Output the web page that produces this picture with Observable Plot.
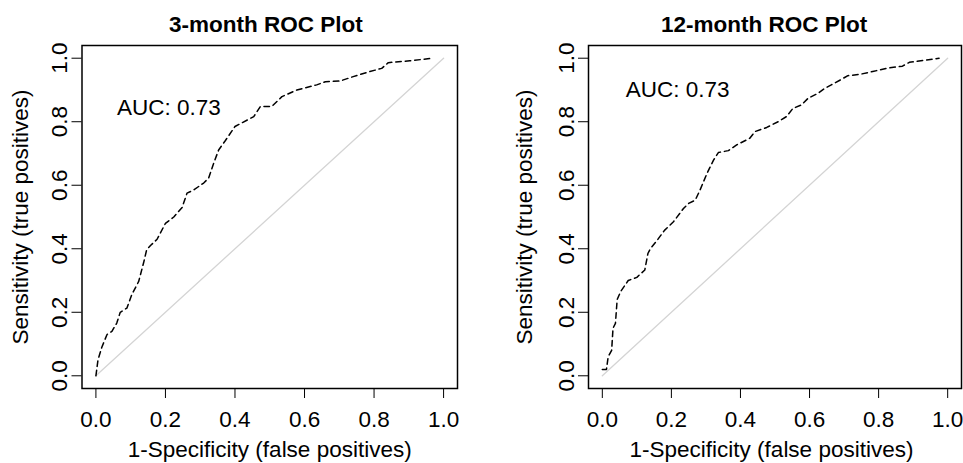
<!DOCTYPE html>
<html><head><meta charset="utf-8">
<script src="https://cdn.jsdelivr.net/npm/d3@7"></script>
<script src="https://cdn.jsdelivr.net/npm/@observablehq/plot@0.6"></script>
<style>
html,body{margin:0;padding:0;background:#fff;}
#wrap{position:relative;width:963px;height:463px;overflow:hidden;background:#fff;}
.panel{position:absolute;top:0;}
</style></head><body><div id="wrap"></div>
<script>
const titles = ["3-month ROC Plot", "12-month ROC Plot"];
const xLabel = "1-Specificity (false positives)";
const yLabel = "Sensitivity (true positives)";
const aucLabels = ["AUC: 0.73", "AUC: 0.73"];
const axisTicks = [0, 0.2, 0.4, 0.6, 0.8, 1.0];

// 3-month ROC curve
const fpr3 = [0,0.006,0.017,0.032,0.046,0.06,0.07,0.089,0.103,0.123,0.137,0.146,0.157,0.176,0.2,0.224,0.248,0.262,0.281,0.31,0.324,0.339,0.353,0.372,0.40,0.454,0.473,0.506,0.535,0.578,0.635,0.66,0.702,0.74,0.788,0.822,0.841,0.903,0.97];
const tpr3 = [0,0.05,0.09,0.13,0.14,0.166,0.20,0.213,0.255,0.297,0.355,0.397,0.41,0.43,0.48,0.50,0.53,0.575,0.585,0.607,0.622,0.67,0.711,0.74,0.785,0.816,0.848,0.848,0.879,0.9,0.916,0.926,0.928,0.942,0.958,0.968,0.986,0.992,1.0];

// 12-month ROC curve
const fpr12 = [0,0.012,0.017,0.027,0.031,0.038,0.043,0.053,0.075,0.1,0.123,0.132,0.139,0.159,0.18,0.206,0.235,0.25,0.269,0.283,0.303,0.322,0.336,0.365,0.389,0.427,0.442,0.476,0.509,0.533,0.552,0.577,0.596,0.624,0.644,0.663,0.69,0.711,0.745,0.783,0.822,0.869,0.889,0.937,0.975];
const tpr12 = [0.02,0.02,0.06,0.08,0.15,0.165,0.24,0.265,0.30,0.31,0.333,0.385,0.40,0.427,0.458,0.485,0.527,0.543,0.553,0.585,0.637,0.679,0.703,0.709,0.727,0.748,0.769,0.782,0.8,0.816,0.842,0.853,0.874,0.889,0.905,0.916,0.932,0.945,0.949,0.958,0.968,0.975,0.987,0.994,1.0];

const aucPos = [[0.21, 0.845], [0.218, 0.899]];

const FONT = "'Liberation Sans', Arial, Helvetica, sans-serif";

function panel({fpr, tpr, title, auc, aucAt, width, marginLeft, marginRight, titleDx, xLabelDx, yLabelOffset}) {
  const curve = fpr.map((x, i) => ({x, y: tpr[i]}));
  const diag = [{x: 0, y: 0}, {x: 1, y: 1}];
  return Plot.plot({
    width, height: 463,
    marginLeft, marginRight, marginTop: 45, marginBottom: 75,
    style: {fontFamily: FONT, fontSize: "22px", background: "white", overflow: "visible"},
    x: {domain: [-0.04, 1.04]},
    y: {domain: [-0.04, 1.04]},
    marks: [
      Plot.line(diag, {x: "x", y: "y", stroke: "#d4d4d4", strokeWidth: 1.3}),
      Plot.line(curve, {x: "x", y: "y", stroke: "black", strokeWidth: 1.5, strokeDasharray: "5.5,4"}),
      Plot.frame({stroke: "black", strokeWidth: 1.5}),
      Plot.axisX({ticks: axisTicks, tickFormat: d3.format(".1f"), tickSize: 10, tickPadding: 13, fontSize: 22.5, label: null, stroke: "black"}),
      Plot.axisY({ticks: axisTicks, tickFormat: d3.format(".1f"), tickSize: 10, tickPadding: 5, tickRotate: -90, fontSize: 22.5, label: null, stroke: "black"}),
      Plot.text([title], {frameAnchor: "top", text: d => d, dy: -14, dx: titleDx, lineAnchor: "bottom", fontWeight: "bold", fontSize: 22.5, fill: "black"}),
      Plot.text([xLabel], {frameAnchor: "bottom", text: d => d, dy: 68, dx: xLabelDx, lineAnchor: "bottom", fontSize: 22.5, fill: "black"}),
      Plot.text([yLabel], {frameAnchor: "left", text: d => d, dx: -yLabelOffset, rotate: -90, lineAnchor: "top", textAnchor: "middle", fontSize: 22.5, fill: "black"}),
      Plot.text([auc], {x: () => aucAt[0], y: () => aucAt[1], text: d => d, fontSize: 22.5, fill: "black", lineAnchor: "middle"})
    ]
  });
}

const wrap = document.getElementById("wrap");
const p1 = panel({fpr: fpr3, tpr: tpr3, title: titles[0], auc: aucLabels[0], aucAt: aucPos[0], width: 481, marginLeft: 81.5, marginRight: 24, titleDx: -4, xLabelDx: 0, yLabelOffset: 70});
const p2 = panel({fpr: fpr12, tpr: tpr12, title: titles[1], auc: aucLabels[1], aucAt: aucPos[1], width: 482, marginLeft: 107, marginRight: 2, titleDx: -11, xLabelDx: -3.5, yLabelOffset: 72});
const d1 = document.createElement("div"); d1.className = "panel"; d1.style.left = "0px"; d1.appendChild(p1);
const d2 = document.createElement("div"); d2.className = "panel"; d2.style.left = "481px"; d2.appendChild(p2);
wrap.appendChild(d1); wrap.appendChild(d2);
</script></body></html>
